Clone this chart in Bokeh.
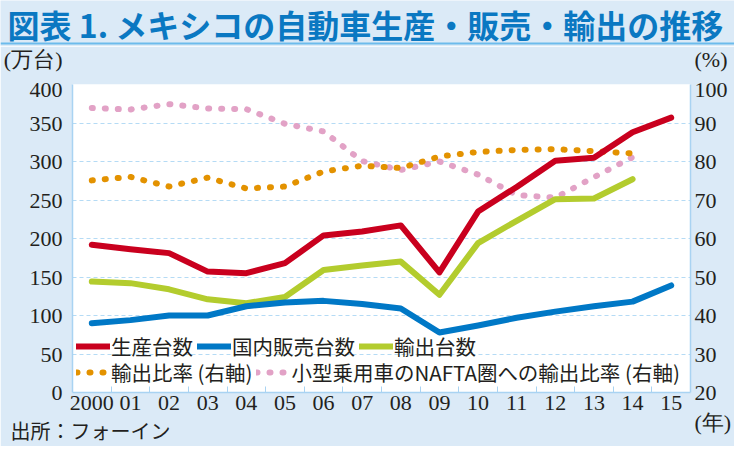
from bokeh.plotting import figure
from bokeh.layouts import column
from bokeh.models import (ColumnDataSource, Range1d, LinearAxis, FixedTicker,
                          Legend, LegendItem, Label, Span, Title)
from bokeh.embed import file_html
from bokeh.resources import INLINE
import numpy as np

years = ["2000", "01", "02", "03", "04", "05", "06", "07",
         "08", "09", "10", "11", "12", "13", "14", "15"]

# 万台
production = [192, 186, 181, 157, 155, 168, 204, 209, 217, 156, 235, 267, 301, 305, 338, 357]
domestic = [90, 94, 100, 100, 112, 117, 119, 115, 109, 78, 87, 97, 105, 112, 118, 139]
exports = [144, 142, 134, 121, 116, 124, 159, 165, 170, 127, 194, 223, 251, 252, 277, np.nan]

# % (right axis)
export_ratio = [75.1, 76.0, 73.5, 75.8, 73.0, 73.5, 77.4, 78.9, 78.3, 81.3, 82.5, 83.0, 83.2, 82.7, 82.1, np.nan]
nafta_ratio = [93.9, 93.5, 94.9, 93.8, 93.6, 89.8, 87.8, 80.1, 77.8, 80.0, 76.6, 71.3, 70.6, 75.9, 81.1, np.nan]

BG = "#dbeaf7"
AXIS = "#a9d3f2"
INK = "#231f20"
SERIF = "Liberation Serif"
SANS = "Noto Sans CJK JP"
W = 734

# ---- header: title and rule
head = figure(width=W, height=46, output_backend="svg", toolbar_location=None,
              x_range=Range1d(0, W), y_range=Range1d(0, 46),
              x_axis_location=None, y_axis_location=None, min_border=0)
head.frame_align = False
head.grid.visible = False
head.outline_line_color = None
head.background_fill_color = BG
head.border_fill_color = BG
head.add_layout(Label(x=7, y=23, text="図表 1. メキシコの自動車生産・販売・輸出の推移",
                      text_font=SANS, text_font_style="bold", text_font_size="32px",
                      text_color="#0a78c2", text_baseline="middle", text_align="left"))
head.add_layout(Span(location=3, dimension="width", line_color="#6cbbec", line_width=2))

# ---- main chart
x = list(range(len(years)))
src = ColumnDataSource(dict(x=x, production=production, domestic=domestic,
                            exports=exports, export_ratio=export_ratio,
                            nafta_ratio=nafta_ratio))

p = figure(width=W, height=400, output_backend="svg", toolbar_location=None,
           x_range=Range1d(-0.5, len(years) - 0.5), y_range=Range1d(0, 400),
           min_border_left=72, min_border_right=40, min_border_top=38,
           min_border_bottom=49)
p.frame_align = False
p.border_fill_color = BG
p.background_fill_color = "white"
p.outline_line_color = None
p.extra_y_ranges = {"pct": Range1d(20, 100)}

p.xaxis.ticker = FixedTicker(ticks=x, minor_ticks=[i + 0.5 for i in x[:-1]])
p.xaxis.major_label_overrides = {i: y for i, y in enumerate(years)}
p.xaxis.major_tick_in = 0
p.xaxis.major_tick_out = 0
p.xaxis.minor_tick_in = 6
p.xaxis.minor_tick_out = 0
p.xaxis.minor_tick_line_color = AXIS
p.xaxis.major_label_standoff = 3

p.yaxis.ticker = FixedTicker(ticks=list(range(0, 401, 50)))
p.yaxis.major_label_overrides = {400: "(万台)\n400\n "}
p.yaxis.major_tick_in = 0
p.yaxis.major_tick_out = 0
p.yaxis.minor_tick_line_color = None
p.yaxis.major_label_standoff = 10

right = LinearAxis(y_range_name="pct", ticker=FixedTicker(ticks=list(range(20, 101, 10))))
right.major_label_overrides = {100: "(%)\n100\n ", 20: " \n20\n(年)"}
right.major_tick_in = 0
right.major_tick_out = 0
right.minor_tick_line_color = None
right.major_label_standoff = 4
p.add_layout(right, "right")

for ax in [p.xaxis[0], p.yaxis[0], right]:
    ax.axis_line_color = AXIS
    ax.axis_line_width = 1.5
    ax.major_label_text_font = SERIF
    ax.major_label_text_font_size = "22px"
    ax.major_label_text_color = INK

p.xgrid.visible = False
p.ygrid.ticker = FixedTicker(ticks=list(range(50, 401, 50)))
p.ygrid.grid_line_color = "#b5dbf5"
p.ygrid.grid_line_dash = "4 3"
p.ygrid.grid_line_width = 1

r_nafta = p.line("x", "nafta_ratio", source=src, y_range_name="pct", color="#e2a2c6",
                 line_width=6, line_dash="1 12", line_cap="round")
r_ratio = p.line("x", "export_ratio", source=src, y_range_name="pct", color="#e39200",
                 line_width=6, line_dash="1 12", line_cap="round")
r_exp = p.line("x", "exports", source=src, color="#b3cc2e", line_width=6,
               line_cap="round", line_join="round")
r_dom = p.line("x", "domestic", source=src, color="#0078c6", line_width=6,
               line_cap="round", line_join="round")
r_prod = p.line("x", "production", source=src, color="#c9001e", line_width=6,
                line_cap="round", line_join="round")


def make_legend(items, loc):
    lg = Legend(items=items, location=loc, orientation="horizontal")
    lg.background_fill_alpha = 0
    lg.border_line_color = None
    lg.padding = 0
    lg.margin = 0
    lg.spacing = 4
    lg.glyph_width = 34
    lg.glyph_height = 20
    lg.label_height = 20
    lg.label_standoff = 1
    lg.label_text_font = SANS
    lg.label_text_font_size = "20.5px"
    lg.label_text_color = INK
    return lg


p.add_layout(make_legend([LegendItem(label="生産台数", renderers=[r_prod]),
                          LegendItem(label="国内販売台数", renderers=[r_dom]),
                          LegendItem(label="輸出台数", renderers=[r_exp])], (4, 31)))
p.add_layout(make_legend([LegendItem(label="輸出比率 (右軸)", renderers=[r_ratio]),
                          LegendItem(label="小型乗用車のNAFTA圏への輸出比率 (右軸)",
                                     renderers=[r_nafta])], (4, 5)))

src_note = Title(text="出所：フォーイン", align="left", offset=-62, standoff=3,
                 text_font=SANS, text_font_size="20px", text_font_style="normal",
                 text_color=INK)
p.add_layout(src_note, "below")

layout = column(head, p, spacing=0)
open("out.html", "w").write(file_html(layout, INLINE))
